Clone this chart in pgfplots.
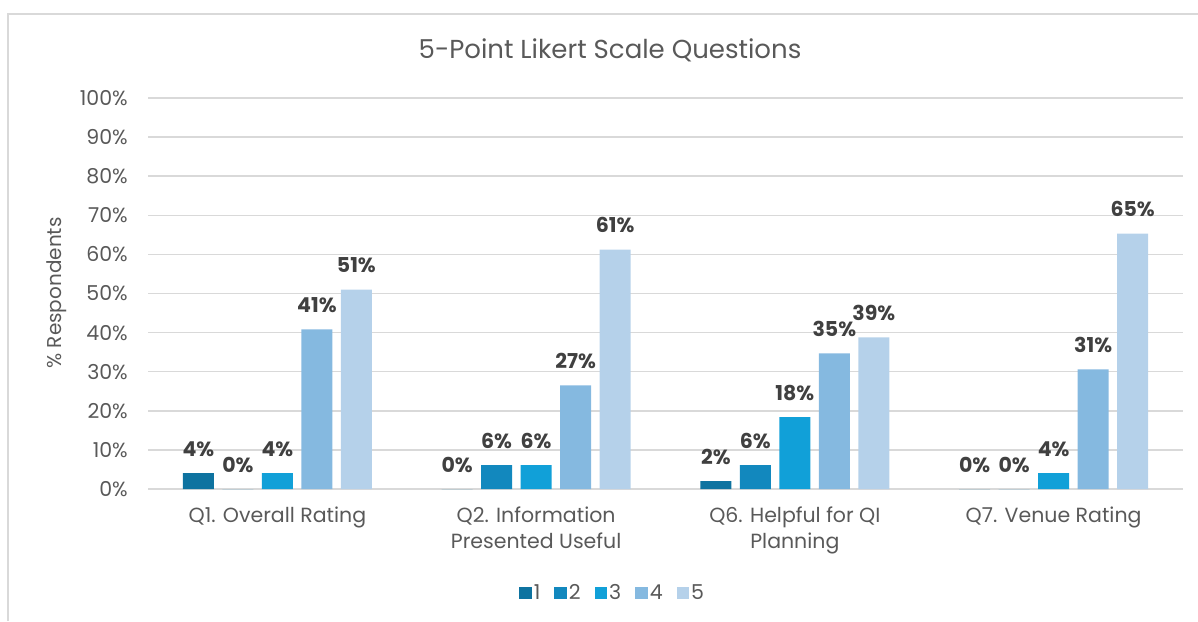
\documentclass[border=0pt]{standalone}
\usepackage{fontspec}
\setmainfont{Poppins}
\usepackage{pgfplots}
\pgfplotsset{compat=1.18}
\definecolor{c1}{RGB}{14,115,160}
\definecolor{c2}{RGB}{18,136,190}
\definecolor{c3}{RGB}{17,160,216}
\definecolor{c4}{RGB}{133,185,224}
\definecolor{c5}{RGB}{181,209,234}
\definecolor{gridc}{RGB}{217,217,217}
\definecolor{txt}{RGB}{89,89,89}
\definecolor{lab}{RGB}{64,64,64}
\begin{document}
\begin{tikzpicture}[x=1pt,y=1pt]
\useasboundingbox (0,0) rectangle (1198,621);
\draw[gridc, line width=1.5pt] (8,0) -- (8,607) -- (1198,607);
\node[txt, font=\fontsize{26}{30}\selectfont] at (610,571) {5-Point Likert Scale Questions};
\node[txt, font=\fontsize{20}{24}\selectfont, rotate=90] at (57,328) {\% Respondents};
\begin{axis}[
  at={(148pt,132pt)}, anchor=south west,
  scale only axis, width=1035pt, height=391pt,
  ymin=0, ymax=100, xmin=-0.5, xmax=3.5,
  ybar=8.5pt, bar width=31pt,
  axis line style={draw=none},
  major tick length=0pt,
  ytick={0,10,...,100},
  ymajorgrids, grid style={gridc, line width=1.5pt},
  /pgf/number format/assume math mode=true,
  yticklabel={\pgfmathprintnumber{\tick}\%},
  yticklabel style={txt, font=\fontsize{20.5}{24}\selectfont, inner sep=0pt, xshift=-20pt},
  xtick={0,1,2,3},
  xticklabels={{Q1. Overall Rating},{Q2. Information\\Presented Useful},{Q6. Helpful for QI\\Planning},{Q7. Venue Rating}},
  xticklabel style={txt, font=\fontsize{20.5}{26}\selectfont, align=center, anchor=north, inner sep=0pt, yshift=-18pt},
  nodes near coords={\pgfmathprintnumber[fixed,precision=0]{\pgfplotspointmeta}\%},
  every node near coord/.append style={lab, font=\fontsize{20.5}{24}\selectfont\bfseries, anchor=base, inner sep=0pt, yshift=17pt},
  legend columns=5,
  legend style={draw=none, at={(0.449,-0.266)}, anchor=center, font=\fontsize{20.5}{24}\selectfont, text=txt,
    /tikz/every even column/.append style={column sep=12pt},
    legend cell align=left},
  sq/.style={legend image code/.code={\fill[##1] (0pt,-6pt) rectangle (12.5pt,6.5pt);}},
]
\addplot[fill=c1, draw=none, sq] coordinates {(0,4.08) (1,0) (2,2.04) (3,0)};
\addplot[fill=c2, draw=none, sq] coordinates {(0,0) (1,6.12) (2,6.12) (3,0)};
\addplot[fill=c3, draw=none, sq] coordinates {(0,4.08) (1,6.12) (2,18.37) (3,4.08)};
\addplot[fill=c4, draw=none, sq] coordinates {(0,40.82) (1,26.53) (2,34.69) (3,30.61)};
\addplot[fill=c5, draw=none, sq] coordinates {(0,51.02) (1,61.22) (2,38.78) (3,65.31)};
\legend{1,2,3,4,5}
\end{axis}
\end{tikzpicture}
\end{document}
